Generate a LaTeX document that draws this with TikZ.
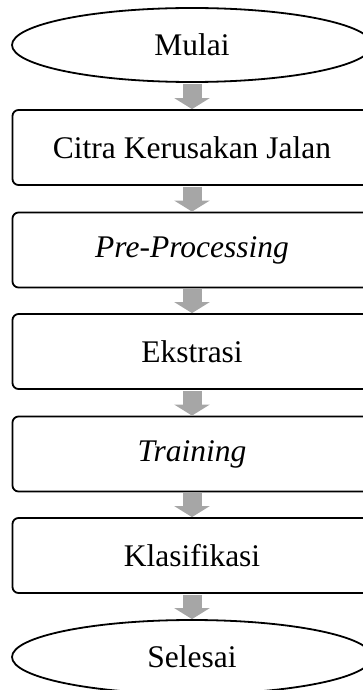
\documentclass[tikz,border=0pt]{standalone}
\usepackage{fontspec}
\setmainfont{Liberation Serif}
\usetikzlibrary{shapes.geometric,arrows.meta}
\definecolor{arrowgray}{RGB}{166,166,166}
\tikzset{
  x=1pt,y=-1pt,
  base/.style={draw=black,line width=1.8pt,font=\fontsize{31.5}{36}\selectfont,inner sep=0pt},
  terminal/.style={base,ellipse,minimum width=360pt,minimum height=74pt},
  stepbox/.style={base,rectangle,rounded corners=6pt,minimum width=359pt,minimum height=75pt},
  flow/.style={draw=arrowgray,line width=19pt,shorten <=1pt,-{Triangle[width=35pt,length=11pt]}}
}
\begin{document}
\begin{tikzpicture}
\useasboundingbox (0,0) rectangle (362,690);
\node[terminal] (mulai) at (192,45) {Mulai};
\node[stepbox] (citra) at (192,147.5) {Citra Kerusakan Jalan};
\node[stepbox] (pre) at (192,250) {\itshape Pre-Processing};
\node[stepbox] (eks) at (192,351.5) {Ekstrasi};
\node[stepbox] (train) at (192,454) {\itshape Training};
\node[stepbox] (klas) at (192,555.5) {Klasifikasi};
\node[terminal] (selesai) at (192,657) {Selesai};
\draw[flow] (mulai.south) -- (citra.north);
\draw[flow] (citra.south) -- (pre.north);
\draw[flow] (pre.south) -- (eks.north);
\draw[flow] (eks.south) -- (train.north);
\draw[flow] (train.south) -- (klas.north);
\draw[flow] (klas.south) -- (selesai.north);
\end{tikzpicture}
\end{document}
